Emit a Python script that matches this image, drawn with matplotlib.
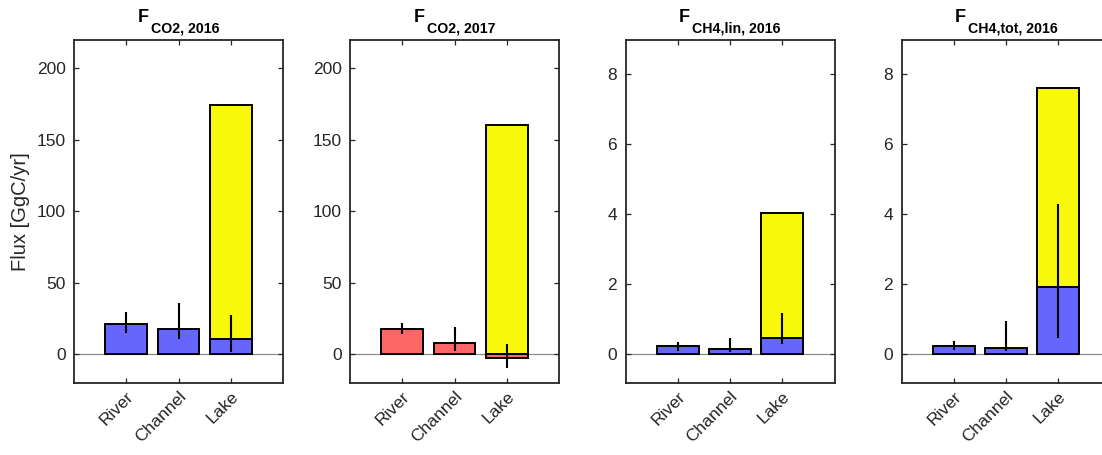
import matplotlib
matplotlib.use("Agg")
import matplotlib.pyplot as plt
import matplotlib.transforms as mtransforms

plt.rcParams['font.family'] = ['Liberation Sans', 'DejaVu Sans']

# ---- data -------------------------------------------------------------
categories = ['River', 'Channel', 'Lake']
title_main = ['F', 'F', 'F', 'F']
title_sub = ['CO2, 2016', 'CO2, 2017', 'CH4,lin, 2016', 'CH4,tot, 2016']

# mean flux per water body type [GgC/yr]
co2_2016 = [21.0, 18.0, 10.9]
co2_2017 = [17.5, 7.7, -2.6]
ch4_lin_2016 = [0.24, 0.15, 0.47]
ch4_tot_2016 = [0.24, 0.19, 1.92]

# uncertainty range (low, high)
co2_2016_low = [14.7, 10.5, 1.9]
co2_2016_high = [29.8, 35.6, 27.3]
co2_2017_low = [14.2, 2.3, -9.8]
co2_2017_high = [21.9, 19.3, 7.4]
ch4_lin_2016_low = [0.09, 0.07, 0.30]
ch4_lin_2016_high = [0.35, 0.47, 1.19]
ch4_tot_2016_low = [0.11, 0.09, 0.47]
ch4_tot_2016_high = [0.39, 0.95, 4.29]

# lake total including the upper estimate
lake_total = [174.0, 160.0, 4.05, 7.6]

values = [co2_2016, co2_2017, ch4_lin_2016, ch4_tot_2016]
lows = [co2_2016_low, co2_2017_low, ch4_lin_2016_low, ch4_tot_2016_low]
highs = [co2_2016_high, co2_2017_high, ch4_lin_2016_high, ch4_tot_2016_high]
bar_colors = ['#6666FF', '#FF6666', '#6666FF', '#6666FF']
ylims = [(-20, 220), (-20, 220), (-0.82, 9), (-0.82, 9)]
yticks = [[0, 50, 100, 150, 200], [0, 50, 100, 150, 200],
          [0, 2, 4, 6, 8], [0, 2, 4, 6, 8]]

# ---- figure -----------------------------------------------------------
W, H = 1102, 455
DPI = 100
fig = plt.figure(figsize=(W / DPI, H / DPI), dpi=DPI)
renderer = fig.canvas.get_renderer()

ax_left_px = [74, 350, 625.5, 901.5]
ax_w_px = 209
ax_top_px, ax_bot_px = 39.5, 383

frame_col = '#262626'
x = [1, 2, 3]

for i in range(4):
    ax = fig.add_axes([ax_left_px[i] / W, (H - ax_bot_px) / H,
                       ax_w_px / W, (ax_bot_px - ax_top_px) / H])
    ax.axhline(0, color='#8c8c8c', lw=0.9, zorder=0.5)

    # lake total (yellow) then the per-type mean bars on top
    ax.bar([3], [lake_total[i]], width=0.8, color='#F8F80A',
           edgecolor='black', linewidth=1.4, zorder=1)
    ax.bar(x, values[i], width=0.8, color=bar_colors[i],
           edgecolor='black', linewidth=1.4, zorder=2)

    v = values[i]
    yerr = [[v[k] - lows[i][k] for k in range(3)],
            [highs[i][k] - v[k] for k in range(3)]]
    ax.errorbar(x, v, yerr=yerr, fmt='none', ecolor='black',
                elinewidth=1.5, capsize=0, zorder=3)

    ax.set_xlim(0, 4)
    ax.set_ylim(*ylims[i])
    ax.set_yticks(yticks[i])
    ax.set_xticks(x)
    ax.set_xticklabels(categories, rotation=45, ha='right', va='top',
                       rotation_mode='anchor')
    offset = mtransforms.ScaledTranslation(14 / DPI, -9 / DPI,
                                           fig.dpi_scale_trans)
    for lab in ax.get_xticklabels():
        lab.set_transform(lab.get_transform() + offset)

    ax.tick_params(direction='in', length=3.5, width=0.9, top=True,
                   right=True, labelsize=12.5, colors=frame_col,
                   labelcolor=frame_col)
    ax.tick_params(axis='y', pad=6)
    ax.tick_params(axis='x', pad=4)
    for sp in ax.spines.values():
        sp.set_color(frame_col)
        sp.set_linewidth(1.3)

    if i == 0:
        ax.set_ylabel('Flux [GgC/yr]', fontsize=14.5, color=frame_col)
        ax.yaxis.set_label_coords(-0.21, 0.5)

    # title: bold F with a bold subscript, centred over the axes
    cx = ax_left_px[i] + ax_w_px / 2
    tF = fig.text(0, 0, title_main[i], fontsize=13, fontweight='bold',
                  ha='left', va='baseline')
    tS = fig.text(0, 0, title_sub[i], fontsize=10.2, fontweight='bold',
                  ha='left', va='baseline')
    wF = tF.get_window_extent(renderer).width
    wS = tS.get_window_extent(renderer).width
    gap = 2.5
    x0 = cx - (wF + gap + wS) / 2
    tF.set_position((x0 / W, (H - 21.7) / H))
    tS.set_position(((x0 + wF + gap) / W, (H - 32.3) / H))

fig.savefig('out.png', dpi=DPI, facecolor='white')
